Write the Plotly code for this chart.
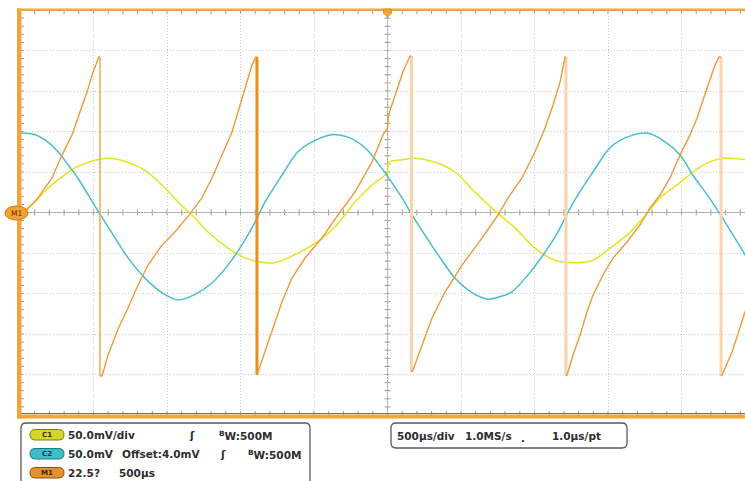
import plotly.graph_objects as go

# C2 (cyan) : time in microseconds, amplitude in mV
c2_time_us = [0, 102, 190, 259, 327, 395, 463, 544, 646, 735,
              850, 966, 1075, 1191, 1306, 1415, 1510, 1599, 1667, 1782,
              1891, 2007, 2122, 2231, 2347, 2435, 2503, 2599, 2667, 2755,
              2843, 2959, 3075, 3184, 3299, 3347, 3456, 3572, 3660, 3721,
              3796, 3898, 4014, 4129, 4265, 4374, 4490, 4578, 4674, 4762,
              4851, 4932, 5000]
c2_mv = [98, 96, 87, 75, 59, 42, 22, -2, -31, -56,
         -81, -99, -108, -101, -87, -65, -40, -12, 13, 46,
         75, 89, 96, 93, 80, 61, 44, 18, -3, -28,
         -52, -81, -99, -107, -102, -98, -77, -49, -24, -2,
         22, 50, 80, 93, 98, 89, 71, 46, 22, -2,
         -28, -52, -71]

# C1 (yellow)
c1_time_us = [0, 102, 190, 286, 374, 463, 599, 735, 850, 966,
              1075, 1170, 1279, 1415, 1531, 1667, 1735, 1871, 2007, 2143,
              2279, 2395, 2497, 2510, 2599, 2687, 2823, 2959, 3095, 3231,
              3367, 3503, 3640, 3782, 3898, 4014, 4129, 4238, 4354, 4470,
              4578, 4674, 4783, 4932, 5000]
c1_mv = [-1, 13, 30, 44, 55, 62, 67, 62, 52, 34,
         13, -3, -24, -44, -56, -62, -62, -52, -38, -18,
         13, 34, 49, 62, 65, 67, 62, 50, 25, 2,
         -19, -44, -59, -62, -59, -44, -28, -7, 18, 34,
         50, 61, 67, 65, 62]

# M1 (orange, math channel) in degrees; repeated times are the wrap-around jumps
m1_time_us = [0, 34, 122, 218, 286, 354, 408, 456, 497, 537,
              544, 544,
              558, 599, 667, 735, 803, 871, 966, 1054, 1156, 1238, 1306, 1374, 1442,
              1483, 1531, 1578, 1605,
              1612, 1612,
              1619, 1646, 1714, 1782, 1850, 1939, 2054, 2163, 2279, 2395, 2469, 2500,
              2507, 2551, 2605, 2653,
              2663, 2663,
              2674, 2735, 2803, 2891, 3007, 3143, 3252, 3320, 3415, 3503, 3572, 3626,
              3674, 3708,
              3714, 3714,
              3721, 3762, 3810, 3857, 3898, 3966, 4034, 4129, 4218, 4286, 4354, 4422,
              4490, 4558, 4606, 4674, 4728, 4755,
              4769, 4769,
              4776, 4844, 4898, 4932, 5000]
m1_deg = [-1.4, 0.3, 8.1, 19.2, 31.9, 43.1, 55.8, 66.9, 78.1, 86.4,
          86.4, -90.8,
          -90.8, -79.2, -64.7, -53.1, -40.3, -29.2, -18.1, -10.8, -0.8, 8.1, 19.2, 31.9, 44.7,
          55.8, 69.2, 81.9, 86.4,
          86.4, -90.3,
          -88.6, -83.1, -66.4, -49.7, -36.4, -25.3, -14.2, -1.4, 11.4, 28.1, 43.1, 46.9,
          54.2, 65.3, 78.1, 86.9,
          86.9, -88.6,
          -87.5, -73.6, -58.6, -44.2, -29.2, -14.2, -1.4, 8.1, 19.2, 33.6, 46.9, 59.7,
          72.5, 86.4,
          86.4, -90.8,
          -90.3, -79.2, -68.1, -55.3, -45.8, -34.7, -25.3, -16.4, -6.9, 2.5, 9.7, 19.2,
          31.9, 43.1, 52.5, 69.2, 81.9, 86.4,
          86.4, -90.8,
          -90.3, -77.5, -64.2, -55.3, -43.1]

# scope settings
time_per_div_us = 500
volt_per_div_mv = 50
m1_per_div_deg = 22.5
n_div = 10
x_visible_end_us = 4932          # the right edge of the screen is cropped

row1_texts = ["50.0mV/div", "\u0283", "<sup>B</sup>W:500M"]
row2_texts = ["50.0mV", "Offset:4.0mV", "\u0283", "<sup>B</sup>W:500M"]
row3_texts = ["22.5?", "500\u00b5s"]
time_texts = ["500\u00b5s/div", "1.0MS/s", ".", "1.0\u00b5s/pt"]

# ---------------- colours / geometry ----------------
ORANGE = "#F4A43C"
CYAN = "#48BECC"
YELLOW = "#E4E41E"
M1COL = "#EE9A38"
GRID = "#CACACA"
W, H = 745, 481
ML, MT, MB = 20, 10, 66
PW, PH = W - ML, H - MT - MB


def px(X):
    return (X - ML) / PW


def py(Y):
    return (H - MB - Y) / PH


fig = go.Figure()

fig.add_trace(go.Scatter(x=c1_time_us, y=c1_mv, mode="lines",
                         line=dict(color=YELLOW, width=1.5, shape="spline", smoothing=0.9),
                         hoverinfo="skip", showlegend=False))
fig.add_trace(go.Scatter(x=c2_time_us, y=c2_mv, mode="lines",
                         line=dict(color=CYAN, width=1.5, shape="spline", smoothing=0.9),
                         hoverinfo="skip", showlegend=False))

# M1: split at wrap-around jumps
mx, my, drops = [], [], []
for i, (t, d) in enumerate(zip(m1_time_us, m1_deg)):
    if i > 0 and t == m1_time_us[i - 1]:
        mx.append(None)
        my.append(None)
        drops.append(([t, t], [m1_deg[i - 1], d]))
    mx.append(t)
    my.append(d)

drop_styles = [dict(color="#F0A850", width=1.5),
               dict(color="#E8901E", width=3),
               dict(color="#F8D3AC", width=3),
               dict(color="#F8D3AC", width=3),
               dict(color="#F8D3AC", width=3)]
for k, (dx, dy) in enumerate(drops):
    fig.add_trace(go.Scatter(x=dx, y=dy, mode="lines", yaxis="y2",
                             line=drop_styles[k % len(drop_styles)],
                             hoverinfo="skip", showlegend=False))
fig.add_trace(go.Scatter(x=mx, y=my, mode="lines", yaxis="y2", connectgaps=False,
                         line=dict(color=M1COL, width=1.4),
                         hoverinfo="skip", showlegend=False))

# ---------------- decorations ----------------
shapes = []
x_end = x_visible_end_us
y_half = volt_per_div_mv * n_div / 2
xc = (time_per_div_us * n_div / 2) / x_end


def xp(t):
    return t / x_end


def yp(v):
    return (v + y_half) / (2 * y_half)


tick_col = "#999999"
minor_t = [k * time_per_div_us / 5 for k in range(0, 5 * n_div) if k * time_per_div_us / 5 < x_end]
minor_v = [-y_half + k * volt_per_div_mv / 5 for k in range(1, 5 * n_div)]

# center cross lines
shapes.append(dict(type="line", xref="paper", yref="paper", x0=xc, x1=xc, y0=0, y1=1,
                   line=dict(color="#B0A89E", width=1), layer="between"))
shapes.append(dict(type="line", xref="paper", yref="paper", x0=0, x1=1, y0=0.5, y1=0.5,
                   line=dict(color="#B0A89E", width=1), layer="between"))
for t in minor_t:
    xx = xp(t)
    shapes.append(dict(type="line", xref="paper", yref="paper", x0=xx, x1=xx,
                       y0=1, y1=1 - 4 / PH, line=dict(color=tick_col, width=1), layer="between"))
    shapes.append(dict(type="line", xref="paper", yref="paper", x0=xx, x1=xx,
                       y0=0, y1=4 / PH, line=dict(color=tick_col, width=1), layer="between"))
    shapes.append(dict(type="line", xref="paper", yref="paper", x0=xx, x1=xx,
                       y0=0.5 - 3 / PH, y1=0.5 + 3 / PH, line=dict(color=tick_col, width=1), layer="between"))
for v in minor_v:
    yy = yp(v)
    shapes.append(dict(type="line", xref="paper", yref="paper", x0=0, x1=4 / PW,
                       y0=yy, y1=yy, line=dict(color=tick_col, width=1), layer="between"))
    shapes.append(dict(type="line", xref="paper", yref="paper", x0=xc - 3 / PW, x1=xc + 3 / PW,
                       y0=yy, y1=yy, line=dict(color=tick_col, width=1), layer="between"))

# frame
shapes.append(dict(type="line", xref="paper", yref="paper", x0=0, x1=1.02, y0=py(413.5), y1=py(413.5),
                   line=dict(color="#6E6E6E", width=1)))
shapes.append(dict(type="rect", xref="paper", yref="paper", x0=px(17), x1=px(21.5), y0=py(418.5), y1=py(8.5),
                   fillcolor=ORANGE, line=dict(width=0)))
shapes.append(dict(type="rect", xref="paper", yref="paper", x0=px(17), x1=1.02, y0=py(11), y1=py(8.5),
                   fillcolor=ORANGE, line=dict(width=0)))
shapes.append(dict(type="rect", xref="paper", yref="paper", x0=px(17), x1=1.02, y0=py(418.5), y1=py(414.5),
                   fillcolor=ORANGE, line=dict(width=0)))

# trigger marker at top centre
tcx = ML + xc * PW
shapes.append(dict(type="path", xref="paper", yref="paper",
                   path=f"M {px(tcx-4)},{py(9)} L {px(tcx+4)},{py(9)} L {px(tcx+4)},{py(13)} "
                        f"L {px(tcx)},{py(17)} L {px(tcx-4)},{py(13)} Z",
                   fillcolor=ORANGE, line=dict(color="#E08A20", width=1)))

# M1 reference marker on the left
shapes.append(dict(type="circle", xref="paper", yref="paper", x0=px(5), x1=px(28), y0=py(220), y1=py(206),
                   fillcolor="#F2A235", line=dict(color="#C97A16", width=1)))


def pill(x0, x1, y0, y1, fill, edge):
    r = (y1 - y0) / 2
    ym = (y0 + y1) / 2
    p = (f"M {px(x0+r)},{py(y0)} L {px(x1-r)},{py(y0)} Q {px(x1)},{py(y0)} {px(x1)},{py(ym)} "
         f"Q {px(x1)},{py(y1)} {px(x1-r)},{py(y1)} L {px(x0+r)},{py(y1)} "
         f"Q {px(x0)},{py(y1)} {px(x0)},{py(ym)} Q {px(x0)},{py(y0)} {px(x0+r)},{py(y0)} Z")
    return dict(type="path", xref="paper", yref="paper", path=p, fillcolor=fill,
                line=dict(color=edge, width=1))


shapes.append(pill(30, 64, 429.5, 440, "#D6D62A", "#7E7E10"))
shapes.append(pill(30, 64, 448.5, 459, "#3DBDC8", "#1C7A84"))
shapes.append(pill(30, 64, 467.5, 478, "#E0922E", "#8A5212"))

# info panels (rounded boxes)
panel_col = "#5A5A5A"
shapes.append(dict(type="path", xref="paper", yref="paper",
                   path=f"M {px(21)},{py(492)} L {px(21)},{py(428)} Q {px(21)},{py(423)} {px(26)},{py(423)} "
                        f"L {px(305)},{py(423)} Q {px(310)},{py(423)} {px(310)},{py(428)} L {px(310)},{py(492)}",
                   line=dict(color=panel_col, width=1.3)))
shapes.append(dict(type="path", xref="paper", yref="paper",
                   path=f"M {px(396)},{py(448)} Q {px(391)},{py(448)} {px(391)},{py(443)} L {px(391)},{py(428)} "
                        f"Q {px(391)},{py(423)} {px(396)},{py(423)} L {px(622)},{py(423)} "
                        f"Q {px(627)},{py(423)} {px(627)},{py(428)} L {px(627)},{py(443)} "
                        f"Q {px(627)},{py(448)} {px(622)},{py(448)} Z",
                   line=dict(color=panel_col, width=1.3)))

annotations = []
FONT = "DejaVu Sans"


def txt(X, Y, s, size=10.5, color="#2E2E2E", anchor="left", bold=True):
    annotations.append(dict(xref="paper", yref="paper", x=px(X), y=py(Y), text=(f"<b>{s}</b>" if bold else s),
                            showarrow=False, xanchor=anchor, yanchor="middle",
                            font=dict(family=FONT, size=size, color=color), borderpad=0))


txt(47, 435, "C1", size=7, color="#333300", anchor="center")
txt(47, 454, "C2", size=7, color="#0E3F44", anchor="center")
txt(47, 473, "M1", size=7, color="#3E2200", anchor="center")
txt(16.5, 213.5, "M1", size=7.5, color="#5A3000", anchor="center", bold=False)

txt(67, 435, row1_texts[0])
txt(188, 435, row1_texts[1])
txt(218, 435, row1_texts[2])
txt(67, 454, row2_texts[0])
txt(121, 454, row2_texts[1])
txt(219, 454, row2_texts[2])
txt(247, 454, row2_texts[3])
txt(67, 473, row3_texts[0])
txt(118, 473, row3_texts[1])

txt(396, 436, time_texts[0])
txt(464, 436, time_texts[1])
txt(520, 438, time_texts[2])
txt(551, 436, time_texts[3])

axis_common = dict(showticklabels=False, zeroline=False, showline=False, ticks="",
                   showgrid=True, gridcolor=GRID, gridwidth=1, griddash="1px,2px", fixedrange=True)

fig.update_layout(
    width=W, height=H,
    margin=dict(l=ML, r=0, t=MT, b=MB, pad=0),
    paper_bgcolor="white", plot_bgcolor="white",
    showlegend=False, hovermode=False,
    xaxis=dict(range=[0, x_end], dtick=time_per_div_us, tick0=0, **axis_common),
    yaxis=dict(range=[-y_half, y_half], dtick=volt_per_div_mv, tick0=0, **axis_common),
    yaxis2=dict(range=[-m1_per_div_deg * n_div / 2, m1_per_div_deg * n_div / 2],
                overlaying="y", visible=False, fixedrange=True),
    shapes=shapes,
    annotations=annotations,
)

fig.write_html("out.html", config={"displayModeBar": False, "staticPlot": True},
               post_script="document.body.style.margin='0';document.body.style.overflow='hidden';")
